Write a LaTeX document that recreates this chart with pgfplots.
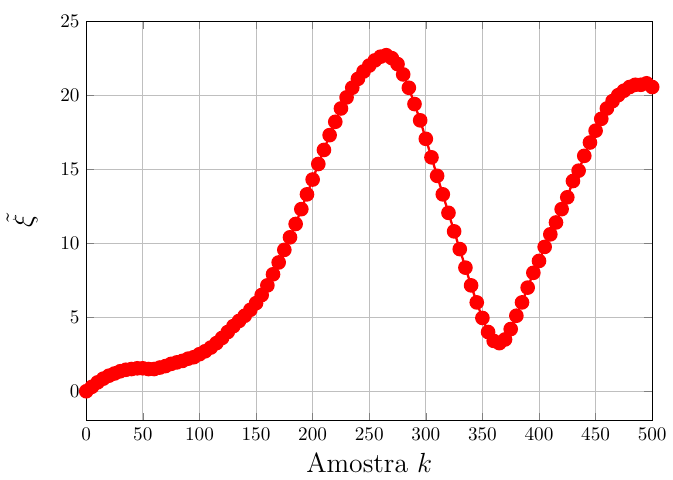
\documentclass[border=0pt]{standalone}
\usepackage{pgfplots}
\pgfplotsset{compat=1.18}
\begin{document}
\begin{tikzpicture}
\begin{axis}[
scale only axis, width=10.35cm, height=7.31cm,
xmin=0, xmax=500, ymin=-2, ymax=25,
xtick={0,50,...,500}, ytick={0,5,...,25},
grid=major,
xlabel={\Large Amostra $k$}, ylabel={\Large $\tilde{\xi}$},
ylabel shift=5pt,
]
\addplot[red, very thick, mark=*, mark size=3.2pt, mark options={fill=red}] coordinates {
(0,0)(5,0.3)(10,0.6)(15,0.85)(20,1.05)(25,1.2)(30,1.35)(35,1.45)(40,1.5)(45,1.55)
(50,1.55)(55,1.5)(60,1.5)(65,1.6)(70,1.7)(75,1.85)(80,1.95)(85,2.05)(90,2.2)(95,2.3)
(100,2.5)(105,2.7)(110,2.95)(115,3.25)(120,3.6)(125,4.0)(130,4.4)(135,4.75)(140,5.1)(145,5.5)
(150,5.95)(155,6.5)(160,7.15)(165,7.9)(170,8.7)(175,9.55)(180,10.4)(185,11.3)(190,12.3)(195,13.3)
(200,14.3)(205,15.35)(210,16.3)(215,17.3)(220,18.2)(225,19.1)(230,19.85)(235,20.5)(240,21.1)(245,21.6)
(250,22.0)(255,22.35)(260,22.6)(265,22.7)(270,22.5)(275,22.1)(280,21.4)(285,20.5)(290,19.4)(295,18.3)
(300,17.05)(305,15.8)(310,14.55)(315,13.3)(320,12.05)(325,10.8)(330,9.6)(335,8.35)(340,7.15)(345,6.0)
(350,4.95)(355,4.0)(360,3.4)(365,3.25)(370,3.5)(375,4.2)(380,5.1)(385,6.0)(390,7.0)(395,8.0)
(400,8.8)(405,9.75)(410,10.6)(415,11.4)(420,12.3)(425,13.1)(430,14.2)(435,14.9)(440,15.9)(445,16.8)
(450,17.6)(455,18.4)(460,19.1)(465,19.6)(470,20.0)(475,20.3)(480,20.55)(485,20.7)(490,20.7)(495,20.8)
(500,20.55)
};
\end{axis}
\path (current axis.north) ++(0,11pt);
\end{tikzpicture}
\end{document}
